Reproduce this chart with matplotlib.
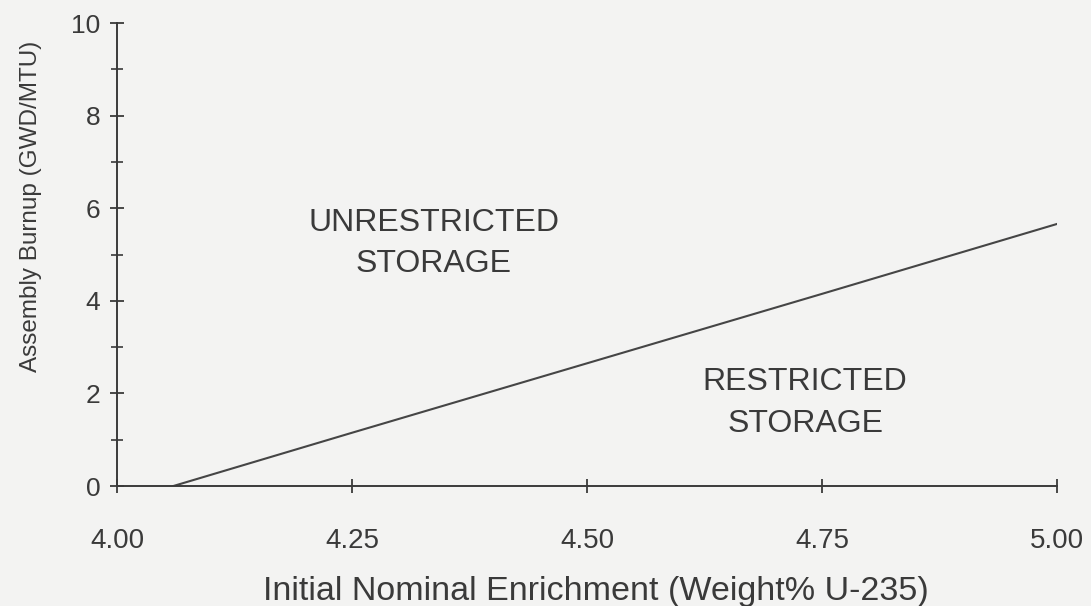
import matplotlib.pyplot as plt
import numpy as np

# limit line
enrichment = [4.06, 4.25, 4.50, 4.75, 5.00]
burnup = [0.0, 1.15, 2.65, 4.15, 5.66]

xticks = [4.00, 4.25, 4.50, 4.75, 5.00]
xticklabels = ['4.00', '4.25', '4.50', '4.75', '5.00']
yticks = [0, 2, 4, 6, 8, 10]

bg = '#f3f3f2'
ink = '#3a3a3a'

plt.rcParams['font.family'] = ['Liberation Sans', 'DejaVu Sans']

fig = plt.figure(figsize=(10.91, 6.06), dpi=100, facecolor=bg)
ax = fig.add_axes([0.1072, 0.198, 0.8616, 0.764])
ax.set_facecolor(bg)

ax.plot(enrichment, burnup, color='#454545', lw=1.5)

ax.set_xlim(4.0, 5.0)
ax.set_ylim(0, 10)
ax.set_xticks(xticks)
ax.set_xticklabels(xticklabels)
ax.set_yticks(yticks)
ax.set_yticks(np.arange(1, 10, 2), minor=True)

for s in ['top', 'right']:
    ax.spines[s].set_visible(False)
for s in ['left', 'bottom']:
    ax.spines[s].set_color(ink)
    ax.spines[s].set_linewidth(1.4)

ax.tick_params(axis='x', direction='inout', length=10, width=1.3, color=ink,
               labelsize=20, labelcolor=ink, pad=25)
ax.tick_params(axis='y', which='major', direction='inout', length=10, width=1.3,
               color=ink, labelsize=19, labelcolor=ink, pad=7)
ax.tick_params(axis='y', which='minor', direction='inout', length=8, width=1.2,
               color=ink)

ax.set_xlabel('Initial Nominal Enrichment (Weight% U-235)', fontsize=24.5,
              color=ink)
ax.xaxis.set_label_coords(0.51, -0.195)
ax.set_ylabel('Assembly Burnup (GWD/MTU)', fontsize=17.5, color=ink)
ax.yaxis.set_label_coords(-0.08, 0.603)

ax.text(4.337, 5.24, 'UNRESTRICTED\nSTORAGE', ha='center', va='center',
        fontsize=23, color=ink, linespacing=1.5)
ax.text(4.732, 1.79, 'RESTRICTED\nSTORAGE', ha='center', va='center',
        fontsize=23, color=ink, linespacing=1.5)

fig.savefig('out.png', dpi=100, facecolor=bg)
